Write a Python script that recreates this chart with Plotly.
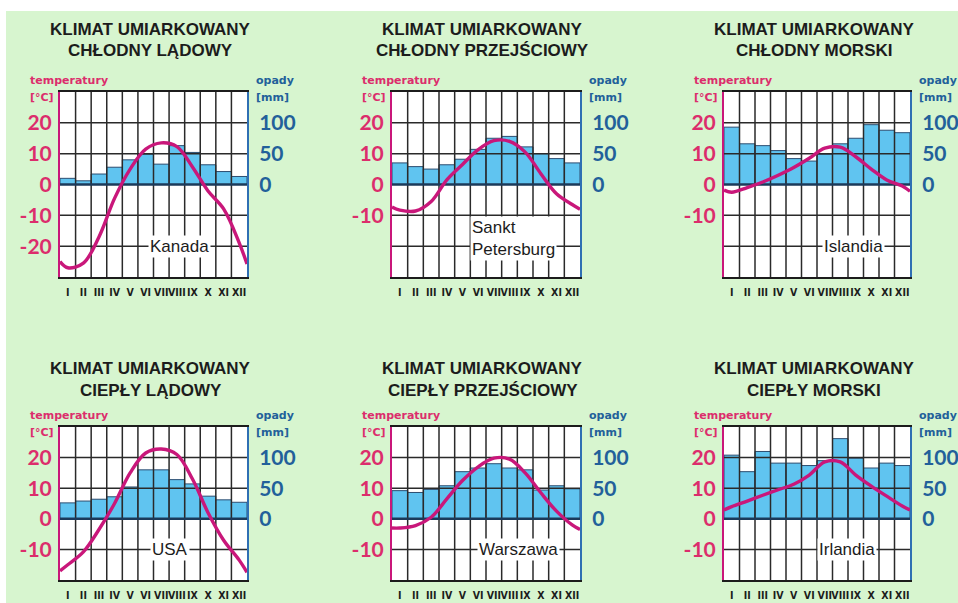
import plotly.graph_objects as go

# ---------------------------------------------------------------- data
months = ["I", "II", "III", "IV", "V", "VI", "VII", "VIII", "IX", "X", "XI", "XII"]

climate_titles = [
    ("KLIMAT UMIARKOWANY", "CHŁODNY LĄDOWY"),
    ("KLIMAT UMIARKOWANY", "CHŁODNY PRZEJŚCIOWY"),
    ("KLIMAT UMIARKOWANY", "CHŁODNY MORSKI"),
    ("KLIMAT UMIARKOWANY", "CIEPŁY LĄDOWY"),
    ("KLIMAT UMIARKOWANY", "CIEPŁY PRZEJŚCIOWY"),
    ("KLIMAT UMIARKOWANY", "CIEPŁY MORSKI"),
]
stations = ["Kanada", "Sankt<br>Petersburg", "Islandia", "USA", "Warszawa", "Irlandia"]

# monthly precipitation [mm]
precip_kanada = [10, 6, 17, 28, 40, 49, 33, 63, 52, 32, 21, 13]
precip_petersburg = [35, 29, 25, 32, 41, 57, 75, 78, 61, 50, 42, 35]
precip_islandia = [93, 66, 63, 55, 42, 38, 49, 66, 75, 97, 88, 84]
precip_usa = [26, 29, 32, 36, 52, 80, 80, 64, 57, 37, 31, 27]
precip_warszawa = [46, 43, 48, 54, 77, 83, 90, 83, 80, 47, 54, 49]
precip_irlandia = [104, 77, 110, 91, 91, 87, 95, 131, 99, 83, 91, 87]

# mean monthly temperature [°C]
temp_kanada = [-27, -25.5, -17, -4.5, 5, 11.5, 13.5, 12.3, 5.7, -2.1, -7.9, -18.9]
temp_petersburg = [-8.3, -8.6, -5.5, 1.5, 6.5, 11.3, 14.2, 14, 10.5, 3.5, -3, -6.5]
temp_islandia = [-2.5, -1, 0.8, 3, 5.5, 8.5, 11.8, 12.1, 9, 5, 1.5, -0.5]
temp_usa = [-15, -10.8, -3.5, 5, 15, 21.5, 22.8, 21, 13, 2, -7, -13.5]
temp_warszawa = [-3, -2.2, 0.5, 6.5, 12.5, 17, 19.8, 19.5, 15, 8.5, 2.5, -2]
temp_irlandia = [4, 5.8, 7.7, 9.5, 11.3, 14.3, 18.6, 18.6, 14.3, 10.7, 7.4, 4.2]

# temperature at the start of January and at the end of December
temp_ends_kanada = [-25, -25.8]
temp_ends_petersburg = [-7.3, -8]
temp_ends_islandia = [-1.8, -2.2]
temp_ends_usa = [-17, -17.5]
temp_ends_warszawa = [-3, -3.5]
temp_ends_irlandia = [2.9, 2.9]

# labelled ticks
temp_ticks_kanada = [-20, -10, 0, 10, 20]
temp_ticks_other = [-10, 0, 10, 20]
precip_ticks = [0, 50, 100]

precip_series = [precip_kanada, precip_petersburg, precip_islandia,
                 precip_usa, precip_warszawa, precip_irlandia]
temp_series = [temp_kanada, temp_petersburg, temp_islandia,
               temp_usa, temp_warszawa, temp_irlandia]
temp_ends = [temp_ends_kanada, temp_ends_petersburg, temp_ends_islandia,
             temp_ends_usa, temp_ends_warszawa, temp_ends_irlandia]
temp_ticks = [temp_ticks_kanada] + [temp_ticks_other] * 5

# ---------------------------------------------------------------- styling
W, H = 958, 603
BG = "#d7f5cf"
BAR_FILL = "#60c4f0"
BAR_EDGE = "#2c4d70"
GRID = "#2a2a2a"
ZERO = "#1b3a5a"
TEMP_LINE = "#c9177a"
TEMP_TEXT = "#dc2d6c"
PREC_TEXT = "#22609a"
PREC_LINE = "#2f6fb3"
DARK = "#1c1c1c"
NARROW = "Liberation Sans Narrow, DejaVu Sans Condensed, Liberation Sans"

# temperature range of each row; precipitation axis is 5 mm per 1 °C
row_temp_range = [(-30, 30), (-20, 30)]
MM_PER_DEG = 5

# subplot boxes in pixels
col_px = [(60, 247), (392, 580), (724, 910)]
row_px = [(92, 277), (427, 580)]
title_y_px = [(29, 51), (368, 390)]

# station label placement (month units, °C) and alignment
label_pos = [(7.7, -20, "center"), (5.0, -17.5, "left"), (8.35, -20, "center"),
             (7.05, -10, "center"), (8.05, -10, "center"), (7.95, -10, "center")]


def px_x(x):
    return x / W


def px_y(y):
    return 1 - y / H


fig = go.Figure()
layout = dict(
    width=W, height=H, margin=dict(l=0, r=0, t=0, b=0),
    paper_bgcolor=BG, plot_bgcolor="white", showlegend=False,
    annotations=[],
    # white strips along the top and left edge of the sheet
    shapes=[
        dict(type="rect", xref="paper", yref="paper", x0=0, x1=1,
             y0=px_y(11), y1=1, fillcolor="white", line_width=0, layer="below"),
        dict(type="rect", xref="paper", yref="paper", x0=0, x1=px_x(6),
             y0=0, y1=1, fillcolor="white", line_width=0, layer="below"),
    ],
)

month_pos = [i + 0.5 for i in range(len(months))]
n_months = len(months)

for i in range(6):
    r, c = divmod(i, 3)
    tmin, tmax = row_temp_range[r]
    xl, xr = col_px[c]
    yt, yb = row_px[r]

    xid = "x" if i == 0 else f"x{i + 1}"
    p_id = f"y{2 * i + 1}" if i > 0 else "y"
    t_id = f"y{2 * i + 2}"
    xkey = "xaxis" if i == 0 else f"xaxis{i + 1}"
    pkey = "yaxis" if i == 0 else f"yaxis{2 * i + 1}"
    tkey = f"yaxis{2 * i + 2}"

    # precipitation bars (base axis)
    fig.add_trace(go.Bar(
        x=month_pos, y=precip_series[i], width=1.0,
        marker=dict(color=BAR_FILL, line=dict(color=BAR_EDGE, width=1)),
        xaxis=xid, yaxis=p_id, hoverinfo="skip",
    ))

    # grid drawn over the bars
    gx, gy = [], []
    for b in range(1, n_months):
        gx += [b, b, None]
        gy += [tmin, tmax, None]
    for t in range(tmin + 10, tmax, 10):
        if t != 0:
            gx += [0, n_months, None]
            gy += [t, t, None]
    fig.add_trace(go.Scatter(
        x=gx, y=gy, mode="lines", line=dict(color=GRID, width=1.5),
        xaxis=xid, yaxis=t_id, hoverinfo="skip",
    ))
    fig.add_trace(go.Scatter(
        x=[0, n_months], y=[0, 0], mode="lines", line=dict(color=ZERO, width=2.6),
        xaxis=xid, yaxis=t_id, hoverinfo="skip",
    ))

    # temperature curve
    fig.add_trace(go.Scatter(
        x=[0] + month_pos + [n_months],
        y=[temp_ends[i][0]] + temp_series[i] + [temp_ends[i][1]],
        mode="lines", line=dict(color=TEMP_LINE, width=3.4, shape="spline", smoothing=1.0),
        xaxis=xid, yaxis=t_id, hoverinfo="skip",
    ))

    layout[xkey] = dict(
        domain=[px_x(xl), px_x(xr)], anchor=p_id, range=[0, n_months],
        tickvals=month_pos, ticktext=months, ticks="", tickangle=0,
        tickfont=dict(family=NARROW, size=10.5, color=DARK, weight="bold"),
        ticklabelstandoff=4,
        showline=True, mirror=True, linecolor=DARK, linewidth=2,
        showgrid=False, zeroline=False, layer="above traces", fixedrange=True,
    )
    layout[pkey] = dict(
        domain=[px_y(yb), px_y(yt)], anchor=xid, side="right",
        range=[tmin * MM_PER_DEG, tmax * MM_PER_DEG],
        tickvals=precip_ticks, ticktext=[str(v) for v in precip_ticks], ticks="",
        tickfont=dict(family="Lato", size=21, color=PREC_TEXT, weight="bold"),
        ticklabelstandoff=6,
        showline=True, linecolor=PREC_LINE, linewidth=2,
        showgrid=False, zeroline=False, layer="above traces", fixedrange=True,
    )
    layout[tkey] = dict(
        overlaying=p_id, anchor=xid, side="left", range=[tmin, tmax],
        tickvals=temp_ticks[i], ticktext=[str(v) for v in temp_ticks[i]], ticks="",
        tickfont=dict(family="Lato", size=21, color=TEMP_TEXT, weight="bold"),
        ticklabelstandoff=2,
        showline=True, linecolor=TEMP_LINE, linewidth=2,
        showgrid=False, zeroline=False, layer="above traces", fixedrange=True,
    )

    # titles
    cx = (xl + xr) / 2 - 3
    for line, ty in zip(climate_titles[i], title_y_px[r]):
        layout["annotations"].append(dict(
            text=line, xref="paper", yref="paper", x=px_x(cx), y=px_y(ty),
            xanchor="center", yanchor="middle", showarrow=False,
            font=dict(family="Liberation Sans", size=17, color=DARK, weight="bold"),
        ))

    # axis captions
    cap_font_t = dict(family="DejaVu Sans", size=11, color=TEMP_TEXT, weight="bold")
    cap_font_p = dict(family="DejaVu Sans", size=11, color=PREC_TEXT, weight="bold")
    layout["annotations"] += [
        dict(text="temperatury", xref="paper", yref="paper",
             x=px_x(xl - 32), y=px_y(yt - 12), xanchor="left", yanchor="middle",
             showarrow=False, font=cap_font_t),
        dict(text="[°C]", xref="paper", yref="paper",
             x=px_x(xl - 32), y=px_y(yt + 5), xanchor="left", yanchor="middle",
             showarrow=False, font=cap_font_t),
        dict(text="opady", xref="paper", yref="paper",
             x=px_x(xr + 7), y=px_y(yt - 12), xanchor="left", yanchor="middle",
             showarrow=False, font=cap_font_p),
        dict(text="[mm]", xref="paper", yref="paper",
             x=px_x(xr + 7), y=px_y(yt + 5), xanchor="left", yanchor="middle",
             showarrow=False, font=cap_font_p),
    ]

    # station name
    lx, ly, al = label_pos[i]
    layout["annotations"].append(dict(
        text=stations[i], xref=xid, yref=t_id, x=lx, y=ly,
        xanchor="left" if al == "left" else "center", yanchor="middle", align=al,
        showarrow=False, bgcolor="white", borderpad=1,
        font=dict(family="Liberation Sans", size=17, color=DARK),
    ))

fig.update_layout(**layout)
fig.write_html("out.html")
